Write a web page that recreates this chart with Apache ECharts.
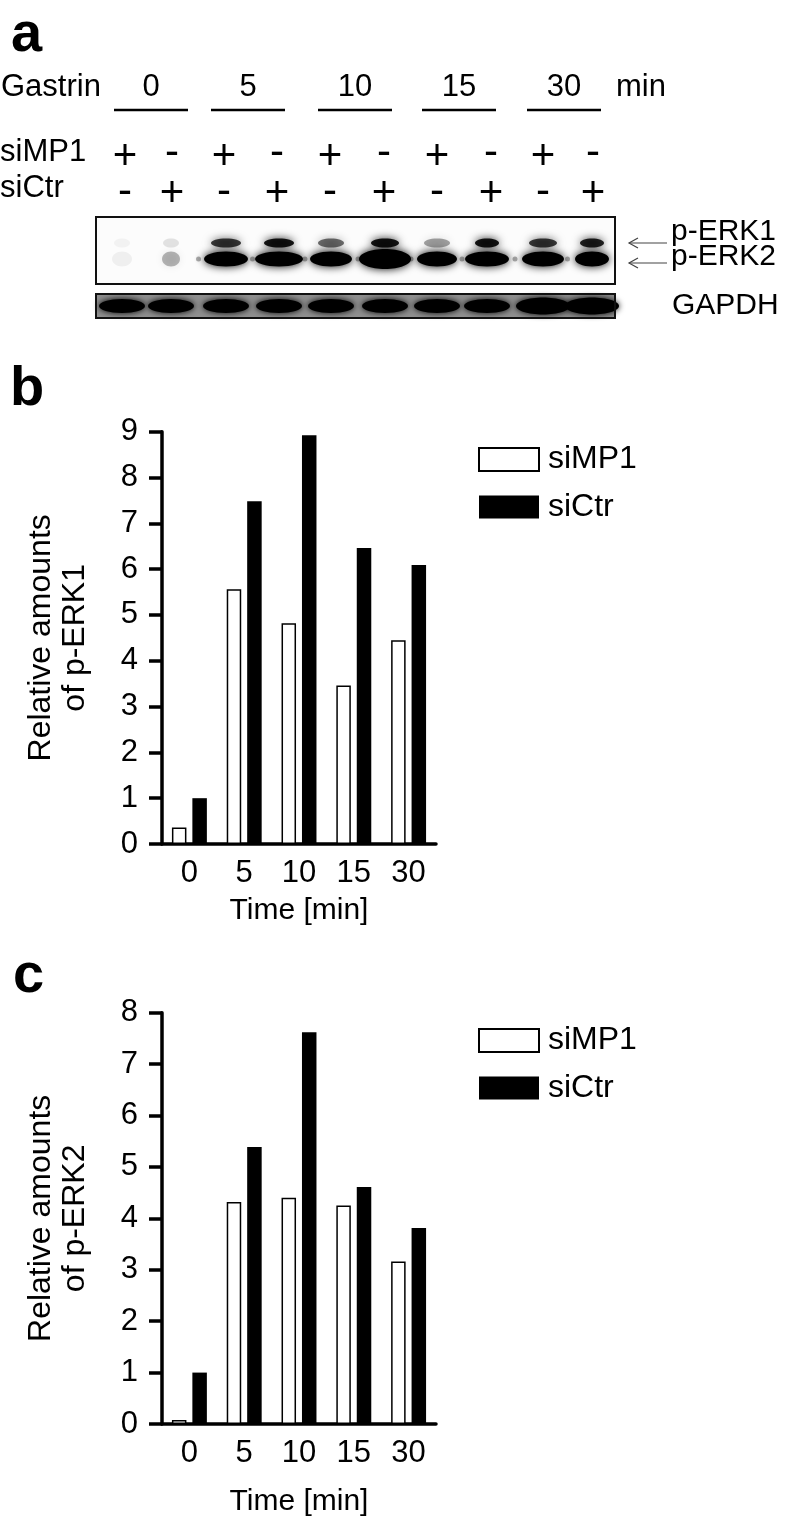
<!DOCTYPE html>
<html><head><meta charset="utf-8">
<script src="https://cdn.jsdelivr.net/npm/echarts@6/dist/echarts.min.js"></script>
<style>html,body{margin:0;padding:0;background:#fff}#main{width:786px;height:1521px}</style>
</head><body><div id="main"></div>
<script>
// ---- data ----
const timeCats = ['0', '5', '10', '15', '30'];
const seriesNames = ['siMP1', 'siCtr'];
const erk1_siMP1 = [0.36, 5.56, 4.82, 3.46, 4.45];
const erk1_siCtr = [1.0, 7.48, 8.92, 6.46, 6.09];
const erk2_siMP1 = [0.08, 4.32, 4.40, 4.25, 3.16];
const erk2_siCtr = [1.0, 5.39, 7.62, 4.61, 3.81];
const yMaxB = 9;
const yMaxC = 8;
// blot panel (a)
const laneSiMP1 = ['+', '-', '+', '-', '+', '-', '+', '-', '+', '-'];
const laneSiCtr = ['-', '+', '-', '+', '-', '+', '-', '+', '-', '+'];
const blotErk1 = [0.04, 0.1, 0.75, 0.9, 0.55, 0.9, 0.35, 0.9, 0.75, 0.85];
const blotErk2 = [0.05, 0.28, 1, 1, 1, 1, 1, 1, 1, 1];
const blotGapdh = [1, 1, 1, 1, 1, 1, 1, 1, 1, 1];

const FONT = "'Liberation Sans', Arial, Helvetica, sans-serif";
const INK = '#000';

// ---- layout for panel a ----
const laneX = [122, 171, 226, 279, 331, 385, 437, 487, 543, 592];
const signX = [125, 172, 224, 277, 330, 384, 437, 491, 543, 593];
const timeX = [151, 248, 355, 459, 564];
const erk2W = [10, 9, 22, 24, 21, 26, 20, 22, 21, 17];
const erk1W = [8, 8, 15, 15, 13, 14, 13, 12, 14, 12];

const g = [];
function txt(x, y, s, size, opts) {
  g.push(Object.assign({
    type: 'text', x: x, y: y, silent: true,
    style: Object.assign({ text: s, fill: INK, font: size + 'px ' + FONT, align: 'left', verticalAlign: 'middle' }, (opts || {}))
  }));
}
// panel letters
txt(11, 36, 'a', 56, { font: 'bold 56px ' + FONT });
txt(10, 390, 'b', 56, { font: 'bold 56px ' + FONT });
txt(13, 977, 'c', 56, { font: 'bold 56px ' + FONT });
// gastrin row
txt(1, 87, 'Gastrin', 31);
timeCats.forEach((t, i) => {
  txt(timeX[i], 87, t, 31, { align: 'center' });
  g.push({ type: 'line', silent: true, shape: { x1: timeX[i] - 37, y1: 110, x2: timeX[i] + 37, y2: 110 }, style: { stroke: INK, lineWidth: 2.5 } });
});
txt(616, 87, 'min', 31);
txt(0, 152, 'siMP1', 31);
txt(0, 188, 'siCtr', 31);
laneSiMP1.forEach((s, i) => txt(signX[i], s === '+' ? 157 : 153, s, 42, { align: 'center' }));
laneSiCtr.forEach((s, i) => txt(signX[i], s === '+' ? 194 : 192, s, 42, { align: 'center' }));
// blot box
g.push({ type: 'rect', silent: true, shape: { x: 96, y: 217, width: 519, height: 67 }, style: { fill: '#fcfcfc', stroke: 'none' } });
laneX.forEach((x, i) => {
  const a1 = blotErk1[i], a2 = blotErk2[i];
  g.push({ type: 'ellipse', silent: true, shape: { cx: x, cy: 243, rx: erk1W[i], ry: 4.5 },
    style: { fill: 'rgba(0,0,0,' + a1 + ')', shadowBlur: 8, shadowColor: 'rgba(0,0,0,' + a1 + ')' } });
  g.push({ type: 'ellipse', silent: true, shape: { cx: x, cy: 259, rx: erk2W[i], ry: i === 5 ? 10 : 7.5 },
    style: { fill: 'rgba(0,0,0,' + a2 + ')', shadowBlur: 8, shadowColor: 'rgba(0,0,0,' + a2 + ')' } });
  if (i < laneX.length - 1 && i > 0) {
    g.push({ type: 'circle', silent: true, shape: { cx: (laneX[i] + laneX[i + 1]) / 2, cy: 259, r: 2.5 },
      style: { fill: 'rgba(0,0,0,0.3)', shadowBlur: 3, shadowColor: 'rgba(0,0,0,0.3)' } });
  }
});
g.push({ type: 'rect', silent: true, shape: { x: 96, y: 217, width: 519, height: 67 }, style: { fill: 'none', stroke: '#111', lineWidth: 2 } });
// GAPDH strip
g.push({ type: 'rect', silent: true, shape: { x: 96, y: 294, width: 519, height: 24 }, style: { fill: '#8f8f8f', stroke: 'none' } });
laneX.forEach((x, i) => {
  g.push({ type: 'ellipse', silent: true, shape: { cx: x, cy: 306, rx: i >= 8 ? 27 : 23, ry: i >= 8 ? 8.5 : 7 },
    style: { fill: 'rgba(0,0,0,' + blotGapdh[i] + ')', shadowBlur: 6, shadowColor: '#000' } });
});
g.push({ type: 'rect', silent: true, shape: { x: 96, y: 294, width: 519, height: 24 }, style: { fill: 'none', stroke: '#111', lineWidth: 2 } });
// arrows + labels
[[243, 'p-ERK1', 232], [263, 'p-ERK2', 257]].forEach(([ay, lab, ty]) => {
  g.push({ type: 'line', silent: true, shape: { x1: 629, y1: ay, x2: 667, y2: ay }, style: { stroke: '#444', lineWidth: 1.2 } });
  g.push({ type: 'polyline', silent: true, shape: { points: [[638, ay - 5], [629, ay], [638, ay + 5]] }, style: { stroke: '#444', lineWidth: 1.2, fill: 'none' } });
  txt(671, ty, lab, 30);
});
txt(672, 306, 'GAPDH', 30);

// ---- charts b & c ----
function yAx(gi, max, name) {
  return {
    type: 'value', gridIndex: gi, min: 0, max: max, interval: 1,
    name: name, nameLocation: 'middle', nameGap: 70,
    nameTextStyle: { fontFamily: FONT, fontSize: 32, color: INK, lineHeight: 34, align: 'center' },
    axisLine: { show: true, lineStyle: { color: INK, width: 3.5 } },
    axisTick: { show: true, length: 13, lineStyle: { color: INK, width: 3.5 } },
    axisLabel: { fontFamily: FONT, fontSize: 31, color: INK, margin: 24 },
    splitLine: { show: false }
  };
}
function xAx(gi, gap) {
  return {
    type: 'category', gridIndex: gi, data: timeCats,
    name: 'Time [min]', nameLocation: 'middle', nameGap: gap,
    nameTextStyle: { fontFamily: FONT, fontSize: 30, color: INK },
    axisLine: { show: true, lineStyle: { color: INK, width: 3.5 } },
    axisTick: { show: false },
    axisLabel: { fontFamily: FONT, fontSize: 31, color: INK, margin: 14, interval: 0 }
  };
}
function bars(gi, name, data) {
  const white = name === 'siMP1';
  return {
    type: 'bar', name: name, xAxisIndex: gi, yAxisIndex: gi, data: data,
    barWidth: 14.5, barGap: '41%',
    itemStyle: white ? { color: '#fff', borderColor: INK, borderWidth: 1.5 } : { color: INK },
    emphasis: { disabled: true }, animation: false
  };
}
function legend(top) {
  return {
    left: 478, top: top, orient: 'vertical', padding: 0,
    itemWidth: 60, itemHeight: 23, itemGap: 15.5, icon: 'rect',
    selectedMode: false,
    textStyle: { fontFamily: FONT, fontSize: 32, color: INK, padding: [0, 0, 0, 4] },
    data: [
      { name: 'siMP1', itemStyle: { color: '#fff', borderColor: INK, borderWidth: 2 } },
      { name: 'siCtr', itemStyle: { color: INK, borderWidth: 0 } }
    ]
  };
}

const chart = echarts.init(document.getElementById('main'), null, { renderer: 'canvas' });
chart.setOption({
  animation: false,
  backgroundColor: '#fff',
  textStyle: { fontFamily: FONT },
  grid: [
    { left: 162, top: 431.7, width: 274, height: 412.3 },
    { left: 162, top: 1012.7, width: 274, height: 411.3 }
  ],
  legend: [legend(443.5), legend(1024.5)],
  xAxis: [xAx(0, 52), xAx(1, 63)],
  yAxis: [yAx(0, yMaxB, 'Relative amounts\nof p-ERK1'), yAx(1, yMaxC, 'Relative amounts\nof p-ERK2')],
  series: [
    bars(0, seriesNames[0], erk1_siMP1), bars(0, seriesNames[1], erk1_siCtr),
    bars(1, seriesNames[0], erk2_siMP1), bars(1, seriesNames[1], erk2_siCtr)
  ],
  graphic: g
});
</script></body></html>
